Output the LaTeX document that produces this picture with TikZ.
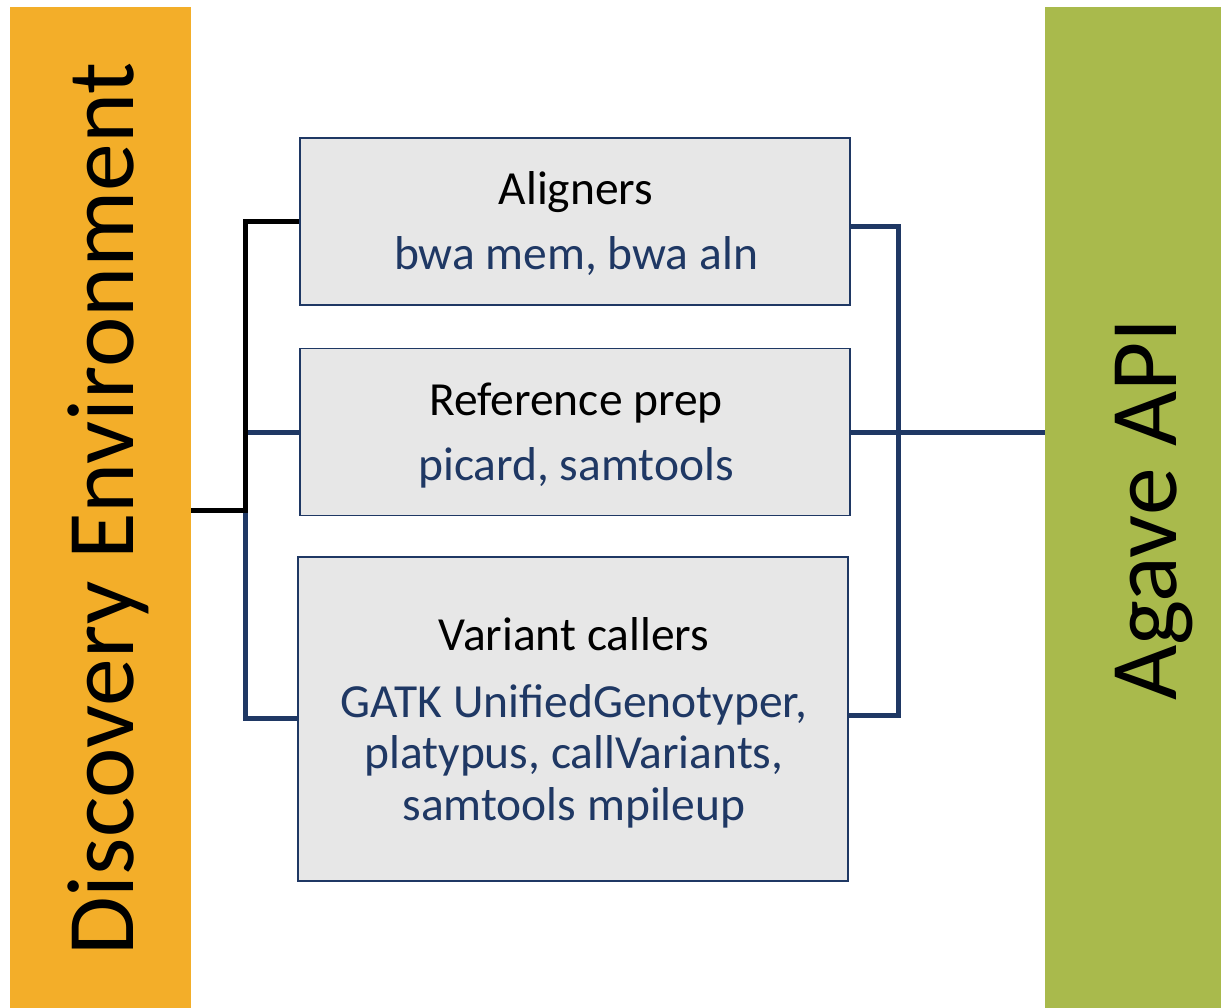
\documentclass[tikz,border=0pt]{standalone}
\usepackage{fontspec}
\setmainfont{Carlito}
\definecolor{deorange}{HTML}{F3AE29}
\definecolor{agreen}{HTML}{A9BA4C}
\definecolor{navy}{HTML}{1F3864}
\definecolor{boxgray}{HTML}{E7E7E7}
\tikzset{
  toolbox/.style={draw=navy, line width=1.5pt, fill=boxgray, inner sep=0pt},
  ttl/.style={anchor=base, inner sep=0pt, font=\fontsize{47.5}{51}\selectfont, text=black},
  sub/.style={anchor=base, inner sep=0pt, font=\fontsize{47.5}{51}\selectfont, text=navy},
  side/.style={anchor=base west, inner sep=0pt, rotate=90, font=\fontsize{95.5}{100}\selectfont, text=black},
  blkline/.style={draw=black, line width=5pt},
  navline/.style={draw=navy, line width=5pt},
}
\begin{document}
\begin{tikzpicture}[x=1pt,y=-1pt]
\useasboundingbox (0,0) rectangle (1221,1008);
% side bars
\fill[deorange] (10,7) rectangle (191,1008);
\fill[agreen] (1045,7) rectangle (1221,1008);
\coordinate (de) at (191,510);
\coordinate (ag) at (1045,432);
\node[side] (detxt) at (133,956) {Discovery Environment};
\node[side] (agtxt) at (1176,701) {Agave API};
% boxes
\node[toolbox, minimum width=550pt, minimum height=167pt] (b1) at (575,221.5) {};
\node[toolbox, minimum width=550pt, minimum height=167pt] (b2) at (575,432) {};
\node[toolbox, minimum width=550pt, minimum height=324pt] (b3) at (573,719) {};
% texts
\node[ttl] (t1) at (576,205) {Aligners};
\node[sub] (s1) at (576,270) {bwa mem, bwa aln};
\node[ttl] (t2) at (576,415) {Reference prep};
\node[sub] (s2) at (576,480) {picard, samtools};
\node[ttl] (t3) at (574,650) {Variant callers};
\node[sub] (s3a) at (574,717) {GATK UnifiedGenotyper,};
\node[sub] (s3b) at (574,768) {platypus, callVariants,};
\node[sub] (s3c) at (574,820) {samtools mpileup};
% junctions
\coordinate (jl) at (245,510);
\coordinate (jr) at (898,432);
% left connectors
\draw[navline] (jl) |- (b2.west);
\draw[navline] (jl) |- (b3.west |- 0,718);
\draw[blkline] (de) -- (jl) |- (b1.west |- 0,222);
% right connectors
\draw[navline] (b1.east |- 0,227) -| (jr) |- (b3.east |- 0,715);
\draw[navline] (b2.east) -- (ag);
\end{tikzpicture}
\end{document}
